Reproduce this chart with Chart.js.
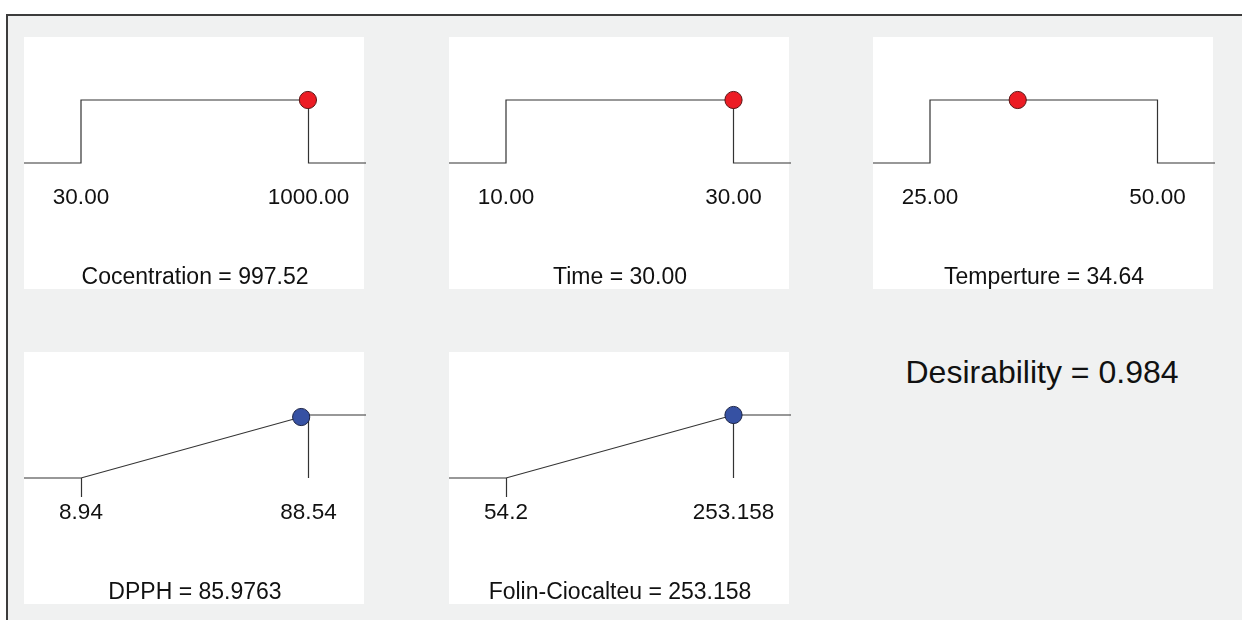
<!DOCTYPE html>
<html>
<head>
<meta charset="utf-8">
<title>Desirability ramps</title>
<script src="https://cdn.jsdelivr.net/npm/chart.js@4.4.1/dist/chart.umd.min.js"></script>
<style>
  html, body { margin: 0; padding: 0; background: #ffffff; }
  body { position: relative; width: 1242px; height: 620px; overflow: hidden;
         font-family: "Liberation Sans", Arial, sans-serif; }
  #frame { position: absolute; left: 6px; top: 14px; right: 0; bottom: 0;
           background: #f0f1f1; border-top: 2px solid #3c3c3c; border-left: 2px solid #3c3c3c; }
  .panel { position: absolute; width: 340px; height: 252px; background: #ffffff; }
  canvas { position: absolute; }
  #overall { position: absolute; left: 842px; top: 352px; width: 400px; height: 40px;
             line-height: 40px; text-align: center; font-size: 32px; color: #111111; }
</style>
</head>
<body>
<div id="frame"></div>
<div id="overall"></div>
<script>
// Factor / response settings from the numerical optimisation
const names          = ['Cocentration', 'Time', 'Temperture', 'DPPH', 'Folin-Ciocalteu'];
const kinds          = ['range', 'range', 'range', 'maximize', 'maximize'];
const lowLimits      = [30, 10, 25, 8.94, 54.2];
const highLimits     = [1000, 30, 50, 88.54, 253.158];
const lowLabels      = ['30.00', '10.00', '25.00', '8.94', '54.2'];
const highLabels     = ['1000.00', '30.00', '50.00', '88.54', '253.158'];
const optimumValues  = [997.52, 30.00, 34.64, 85.9763, 253.158];
const optimumLabels  = ['997.52', '30.00', '34.64', '85.9763', '253.158'];
const desirabilities = [1, 1, 1, 0.968, 1];
const overallDesirability = '0.984';

const FONT = '"Liberation Sans", Arial, sans-serif';
const LINE = '#333333';
const TEXT = '#111111';
const FACTOR_DOT = { fill: '#ec1c24', edge: '#5c1414' };
const RESPONSE_DOT = { fill: '#3651a3', edge: '#1c2446' };

// panel placement (left, top) in page pixels
const panelPos = [[24, 37], [449, 37], [873, 37], [24, 352], [449, 352]];
const PANEL_W = 340, PANEL_H = 252, CANVAS_W = 342;
const LO_PX = 57, SPAN_PX = 227.5;   // where the limits sit inside a panel

document.getElementById('overall').textContent = 'Desirability = ' + overallDesirability;

// short tick under the lower limit of a response ramp
const lowTickPlugin = {
  id: 'lowTick',
  afterDatasetsDraw(chart, args, opts) {
    if (!opts.show) return;
    const { ctx, scales } = chart;
    const x = Math.round(scales.x.getPixelForValue(opts.value)) + 0.5;
    const y = scales.y.getPixelForValue(0);
    ctx.save();
    ctx.strokeStyle = LINE;
    ctx.lineWidth = 1.2;
    ctx.beginPath();
    ctx.moveTo(x, y);
    ctx.lineTo(x, y + 19);
    ctx.stroke();
    ctx.restore();
  }
};

names.forEach((name, k) => {
  const [left, top] = panelPos[k];
  const panel = document.createElement('div');
  panel.className = 'panel';
  panel.style.left = left + 'px';
  panel.style.top = top + 'px';
  document.body.appendChild(panel);

  const canvas = document.createElement('canvas');
  canvas.width = CANVAS_W;
  canvas.height = PANEL_H;
  canvas.style.left = left + 'px';
  canvas.style.top = top + 'px';
  document.body.appendChild(canvas);

  const lo = lowLimits[k], hi = highLimits[k];
  const unit = (hi - lo) / SPAN_PX;
  const xMin = lo - LO_PX * unit;
  const xMax = lo + (CANVAS_W - LO_PX) * unit;

  const datasets = [];
  const dot = kinds[k] === 'range' ? FACTOR_DOT : RESPONSE_DOT;
  datasets.push({
    data: [{ x: optimumValues[k], y: desirabilities[k] }],
    showLine: false,
    pointRadius: 8.6,
    pointBackgroundColor: dot.fill,
    pointBorderColor: dot.edge,
    pointBorderWidth: 1,
    order: 0,
    clip: false
  });
  const lineStyle = { showLine: true, pointRadius: 0, borderColor: LINE, borderWidth: 1.2,
                      tension: 0, order: 1, clip: false };
  if (kinds[k] === 'range') {
    datasets.push(Object.assign({
      data: [{ x: xMin, y: 0 }, { x: lo, y: 0 }, { x: lo, y: 1 },
             { x: hi, y: 1 }, { x: hi, y: 0 }, { x: xMax, y: 0 }]
    }, lineStyle));
  } else {
    datasets.push(Object.assign({
      data: [{ x: xMin, y: 0 }, { x: lo, y: 0 }, { x: hi, y: 1 }, { x: xMax, y: 1 }]
    }, lineStyle));
    datasets.push(Object.assign({
      data: [{ x: hi, y: 1 }, { x: hi, y: 0 }]
    }, lineStyle));
  }

  new Chart(canvas, {
    type: 'scatter',
    data: { datasets },
    options: {
      responsive: false,
      animation: false,
      devicePixelRatio: 1,
      layout: { padding: 0, autoPadding: false },
      plugins: {
        legend: { display: false },
        tooltip: { enabled: false },
        lowTick: { show: kinds[k] === 'maximize', value: lo }
      },
      scales: {
        x: {
          type: 'linear',
          min: xMin,
          max: xMax,
          afterBuildTicks: s => { s.ticks = [{ value: lo }, { value: hi }]; },
          grid: { display: false, drawTicks: false },
          border: { display: false },
          ticks: {
            autoSkip: false,
            maxRotation: 0,
            padding: 7,
            color: TEXT,
            font: { family: FONT, size: 22.5 },
            callback: (v, i) => (i === 0 ? lowLabels[k] : highLabels[k])
          },
          title: {
            display: true,
            text: name + ' = ' + optimumLabels[k],
            color: TEXT,
            font: { family: FONT, size: 23 },
            padding: { top: 45.9, bottom: -2.5 }
          }
        },
        y: { display: false, min: -14 / 63, max: 2 }
      }
    },
    plugins: [lowTickPlugin]
  });
});
</script>
</body>
</html>
